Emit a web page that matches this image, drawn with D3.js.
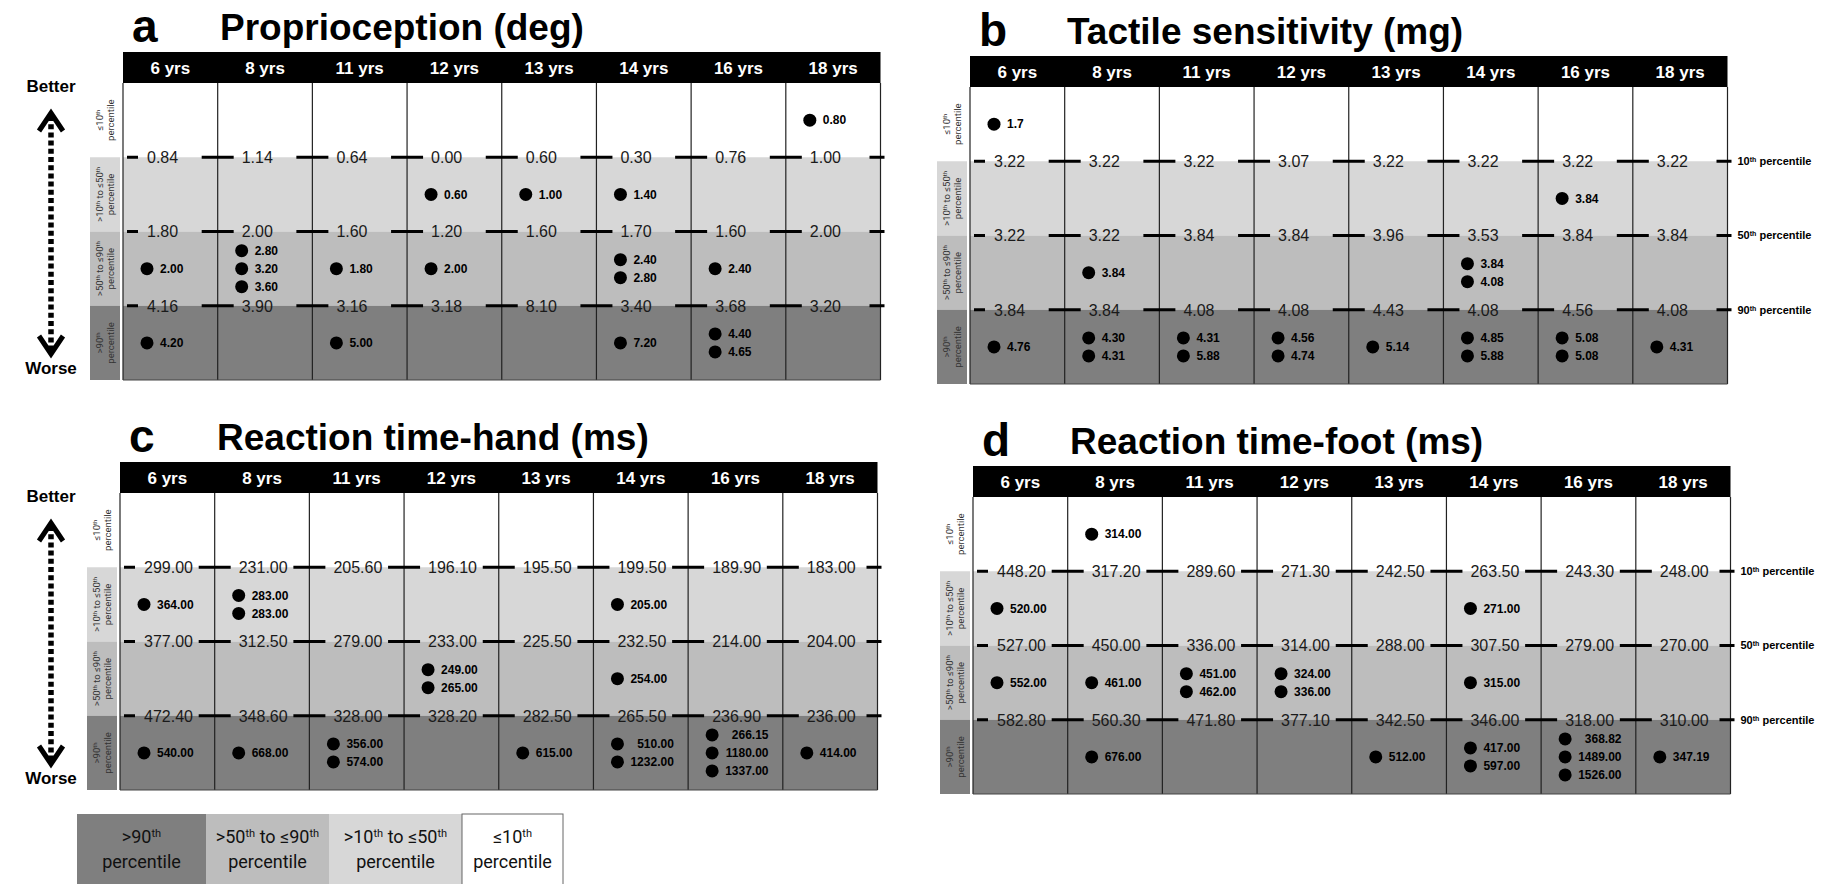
<!DOCTYPE html>
<html>
<head>
<meta charset="utf-8">
<script src="https://cdn.jsdelivr.net/npm/d3@7"></script>
<style>
  body { margin: 0; background: #fff; }
  svg { display: block; }
</style>
</head>
<body>
<div id="chart"></div>
<script>
// ages along the top of every table
const ages = ["6 yrs", "8 yrs", "11 yrs", "12 yrs", "13 yrs", "14 yrs", "16 yrs", "18 yrs"];

// band names, best to worst
const bandLabels = [
  [["≤10", "th"], ["percentile"]],
  [[">10", "th", " to ≤50", "th"], ["percentile"]],
  [[">50", "th", " to ≤90", "th"], ["percentile"]],
  [[">90", "th"], ["percentile"]]
];
const rightLabels = ["10", "50", "90"];
const legendLabels = [
  [[">90", "th"], ["percentile"]],
  [[">50", "th", " to ≤90", "th"], ["percentile"]],
  [[">10", "th", " to ≤50", "th"], ["percentile"]],
  [["≤10", "th"], ["percentile"]]
];

// a - Proprioception (deg)
const propP10 = [0.84, 1.14, 0.64, 0.00, 0.60, 0.30, 0.76, 1.00];
const propP50 = [1.80, 2.00, 1.60, 1.20, 1.60, 1.70, 1.60, 2.00];
const propP90 = [4.16, 3.90, 3.16, 3.18, 8.10, 3.40, 3.68, 3.20];
const propPoints = [
  ["2.00", "4.20"],
  ["2.80", "3.20", "3.60"],
  ["1.80", "5.00"],
  ["0.60", "2.00"],
  ["1.00"],
  ["1.40", "2.40", "2.80", "7.20"],
  ["2.40", "4.40", "4.65"],
  ["0.80"]
];

// b - Tactile sensitivity (mg)
const tactP10 = [3.22, 3.22, 3.22, 3.07, 3.22, 3.22, 3.22, 3.22];
const tactP50 = [3.22, 3.22, 3.84, 3.84, 3.96, 3.53, 3.84, 3.84];
const tactP90 = [3.84, 3.84, 4.08, 4.08, 4.43, 4.08, 4.56, 4.08];
const tactPoints = [
  ["1.7", "4.76"],
  ["3.84", "4.30", "4.31"],
  ["4.31", "5.88"],
  ["4.56", "4.74"],
  ["5.14"],
  ["3.84", "4.08", "4.85", "5.88"],
  ["3.84", "5.08", "5.08"],
  ["4.31"]
];

// c - Reaction time-hand (ms)
const handP10 = [299.00, 231.00, 205.60, 196.10, 195.50, 199.50, 189.90, 183.00];
const handP50 = [377.00, 312.50, 279.00, 233.00, 225.50, 232.50, 214.00, 204.00];
const handP90 = [472.40, 348.60, 328.00, 328.20, 282.50, 265.50, 236.90, 236.00];
const handPoints = [
  ["364.00", "540.00"],
  ["283.00", "283.00", "668.00"],
  ["356.00", "574.00"],
  ["249.00", "265.00"],
  ["615.00"],
  ["205.00", "254.00", "510.00", "1232.00"],
  ["266.15", "1180.00", "1337.00"],
  ["414.00"]
];

// d - Reaction time-foot (ms)
const footP10 = [448.20, 317.20, 289.60, 271.30, 242.50, 263.50, 243.30, 248.00];
const footP50 = [527.00, 450.00, 336.00, 314.00, 288.00, 307.50, 279.00, 270.00];
const footP90 = [582.80, 560.30, 471.80, 377.10, 342.50, 346.00, 318.00, 310.00];
const footPoints = [
  ["520.00", "552.00"],
  ["314.00", "461.00", "676.00"],
  ["451.00", "462.00"],
  ["324.00", "336.00"],
  ["512.00"],
  ["271.00", "315.00", "417.00", "597.00"],
  ["368.82", "1489.00", "1526.00"],
  ["347.19"]
];

const bandColors = ["#ffffff", "#d7d7d7", "#bdbdbd", "#7f7f7f"];
const bold = "'Liberation Sans', Arial, Helvetica, sans-serif";
const plain = "'Liberation Sans', Arial, Helvetica, sans-serif";
const narrow = "Roboto, 'Liberation Sans', Arial, sans-serif";

const panels = [
  { letter: "a", title: "Proprioception (deg)", p10: propP10, p50: propP50, p90: propP90, points: propPoints, x0: 123, top: 52, arrow: true, right: false },
  { letter: "b", title: "Tactile sensitivity (mg)", p10: tactP10, p50: tactP50, p90: tactP90, points: tactPoints, x0: 970, top: 56, arrow: false, right: true },
  { letter: "c", title: "Reaction time-hand (ms)", p10: handP10, p50: handP50, p90: handP90, points: handPoints, x0: 120, top: 462, arrow: true, right: false },
  { letter: "d", title: "Reaction time-foot (ms)", p10: footP10, p50: footP50, p90: footP90, points: footPoints, x0: 973, top: 466, arrow: false, right: true }
];

const W = 1825, H = 884;
const tableW = 757.5, headerH = 31, bodyH = 297;
const fmt = d3.format(".2f");

const svg = d3.select("#chart").append("svg")
  .attr("width", W)
  .attr("height", H);

// write text parts, every odd part as a superscript
function supText(sel, parts, supSize) {
  parts.forEach((t, i) => {
    const ts = sel.append("tspan").text(t);
    if (i % 2 === 1) {
      ts.attr("baseline-shift", "super").style("font-size", supSize + "px");
    }
  });
}

function drawPanel(p) {
  const g = svg.append("g");
  const bodyTop = p.top + headerH;
  const bodyBottom = bodyTop + bodyH;
  const x0 = p.x0, x1 = p.x0 + tableW;

  const x = d3.scaleBand().domain(ages).range([x0, x1]);
  const y = d3.scaleBand().domain(d3.range(4)).range([bodyTop, bodyBottom]);
  const bw = x.bandwidth();

  // titles
  g.append("text")
    .attr("x", x0 + 9)
    .attr("y", p.top - 10)
    .style("font-family", bold)
    .style("font-weight", "700")
    .style("font-size", "46px")
    .text(p.letter);

  g.append("text")
    .attr("x", x0 + 97)
    .attr("y", p.top - 12)
    .style("font-family", bold)
    .style("font-weight", "700")
    .style("font-size", "37px")
    .text(p.title);

  // header
  g.append("rect")
    .attr("x", x0)
    .attr("y", p.top)
    .attr("width", tableW)
    .attr("height", headerH)
    .attr("fill", "#000");

  g.selectAll(".hdr")
    .data(ages)
    .enter()
    .append("text")
    .attr("x", (d) => x(d) + bw / 2)
    .attr("y", p.top + 22)
    .attr("text-anchor", "middle")
    .attr("fill", "#fff")
    .style("font-family", bold)
    .style("font-weight", "700")
    .style("font-size", "17px")
    .text((d) => d);

  // bands
  g.selectAll(".band")
    .data(d3.range(4))
    .enter()
    .append("rect")
    .attr("x", x0)
    .attr("y", (d) => y(d))
    .attr("width", tableW)
    .attr("height", y.bandwidth())
    .attr("fill", (d) => bandColors[d]);

  // left label column
  g.selectAll(".lbox")
    .data(d3.range(4))
    .enter()
    .append("rect")
    .attr("x", x0 - 33)
    .attr("y", (d) => y(d))
    .attr("width", 30)
    .attr("height", y.bandwidth())
    .attr("fill", (d) => bandColors[d]);

  d3.range(4).forEach((b) => {
    const cx = x0 - 18, cy = y(b) + y.bandwidth() / 2;
    const t = g.append("text")
      .attr("transform", "translate(" + cx + "," + cy + ") rotate(-90)")
      .attr("text-anchor", "middle")
      .attr("fill", "#333")
      .style("font-family", narrow)
      .style("font-size", "9.5px");
    const l1 = t.append("tspan").attr("x", 0).attr("y", -2);
    supText(l1, bandLabels[b][0], 6);
    t.append("tspan").attr("x", 0).attr("y", 9).text(bandLabels[b][1][0]);
  });

  // column lines
  g.selectAll(".vline")
    .data(d3.range(ages.length + 1))
    .enter()
    .append("line")
    .attr("x1", (d) => x0 + d * bw)
    .attr("x2", (d) => x0 + d * bw)
    .attr("y1", bodyTop)
    .attr("y2", bodyBottom)
    .attr("stroke", "#222")
    .attr("stroke-width", 1.2);

  g.append("line")
    .attr("x1", x0)
    .attr("x2", x1)
    .attr("y1", bodyBottom)
    .attr("y2", bodyBottom)
    .attr("stroke", "#444")
    .attr("stroke-width", 1.2);

  // percentile rows: dashes and values
  const rows = [p.p10, p.p50, p.p90];
  rows.forEach((vals, k) => {
    const yy = y(k + 1);
    d3.range(ages.length + 1).forEach((j) => {
      const xb = x0 + j * bw;
      let a = xb - 16, b = xb + 16;
      if (j === 0) { a = xb + 4; b = xb + 15; }
      if (j === ages.length) { a = xb - 11; b = xb + 4; }
      g.append("line")
        .attr("x1", a)
        .attr("x2", b)
        .attr("y1", yy)
        .attr("y2", yy)
        .attr("stroke", "#000")
        .attr("stroke-width", 3);
    });

    g.selectAll(null)
      .data(vals)
      .enter()
      .append("text")
      .attr("x", (d, i) => x(ages[i]) + 24)
      .attr("y", yy)
      .attr("dy", "0.36em")
      .attr("fill", "#1a1a1a")
      .style("font-family", plain)
      .style("font-weight", "400")
      .style("font-size", "16px")
      .text((d) => fmt(d));

    if (p.right) {
      const t = g.append("text")
        .attr("x", x1 + 10)
        .attr("y", yy)
        .attr("dy", "0.36em")
        .style("font-family", bold)
        .style("font-weight", "700")
        .style("font-size", "11px");
      supText(t, [rightLabels[k], "th", " percentile"], 7);
    }
  });

  // individual results
  p.points.forEach((list, i) => {
    const th = [p.p10[i], p.p50[i], p.p90[i]];
    const groups = d3.group(list, (v) => d3.bisectLeft(th, +v));
    groups.forEach((vals, b) => {
      const cx = x(ages[i]) + 24;
      const mid = y(b) + y.bandwidth() / 2;
      const texts = [];
      vals.forEach((v, k) => {
        const cy = mid + (k - (vals.length - 1) / 2) * 18;
        g.append("circle")
          .attr("cx", cx)
          .attr("cy", cy)
          .attr("r", 6.5)
          .attr("fill", "#000");
        texts.push(g.append("text")
          .attr("x", cx + 13)
          .attr("y", cy + 4.3)
          .style("font-family", bold)
          .style("font-weight", "700")
          .style("font-size", "12px")
          .text(v));
      });
      const lens = texts.map((t) => t.node().getComputedTextLength());
      const maxLen = d3.max(lens);
      texts.forEach((t, k) => t.attr("x", cx + 13 + maxLen - lens[k]));
    });
  });

  // better / worse arrow
  if (p.arrow) {
    const ax = 51;
    const topApex = p.top + 58, botApex = bodyBottom - 23;
    g.append("text")
      .attr("x", ax)
      .attr("y", p.top + 40)
      .attr("text-anchor", "middle")
      .style("font-family", bold)
      .style("font-weight", "700")
      .style("font-size", "17px")
      .text("Better");
    g.append("text")
      .attr("x", ax)
      .attr("y", bodyBottom - 6)
      .attr("text-anchor", "middle")
      .style("font-family", bold)
      .style("font-weight", "700")
      .style("font-size", "17px")
      .text("Worse");
    g.append("line")
      .attr("x1", ax)
      .attr("x2", ax)
      .attr("y1", topApex + 6)
      .attr("y2", botApex - 4)
      .attr("stroke", "#000")
      .attr("stroke-width", 5.5)
      .attr("stroke-dasharray", "5,3.2");
    g.append("path")
      .attr("d", "M" + (ax - 12) + "," + (topApex + 21) + "L" + ax + "," + (topApex + 3) + "L" + (ax + 12) + "," + (topApex + 21))
      .attr("fill", "none")
      .attr("stroke", "#000")
      .attr("stroke-width", 5);
    g.append("path")
      .attr("d", "M" + (ax - 12) + "," + (botApex - 21) + "L" + ax + "," + (botApex - 3) + "L" + (ax + 12) + "," + (botApex - 21))
      .attr("fill", "none")
      .attr("stroke", "#000")
      .attr("stroke-width", 5);
  }
}

panels.forEach(drawPanel);

// legend
const legendEdges = [77, 206, 329, 462, 563];
const legendColors = [bandColors[3], bandColors[2], bandColors[1], bandColors[0]];
const legend = svg.append("g");
legendLabels.forEach((lab, i) => {
  const a = legendEdges[i], b = legendEdges[i + 1];
  legend.append("rect")
    .attr("x", a)
    .attr("y", 814)
    .attr("width", b - a)
    .attr("height", 80)
    .attr("fill", legendColors[i])
    .attr("stroke", i === 3 ? "#666" : "none")
    .attr("stroke-width", 1);
  const t = legend.append("text")
    .attr("text-anchor", "middle")
    .attr("fill", "#111")
    .style("font-family", narrow)
    .style("font-weight", "400")
    .style("font-size", "18px");
  const l1 = t.append("tspan").attr("x", (a + b) / 2).attr("y", 843);
  supText(l1, lab[0], 11);
  t.append("tspan").attr("x", (a + b) / 2).attr("y", 868).text(lab[1][0]);
});
</script>
</body>
</html>
